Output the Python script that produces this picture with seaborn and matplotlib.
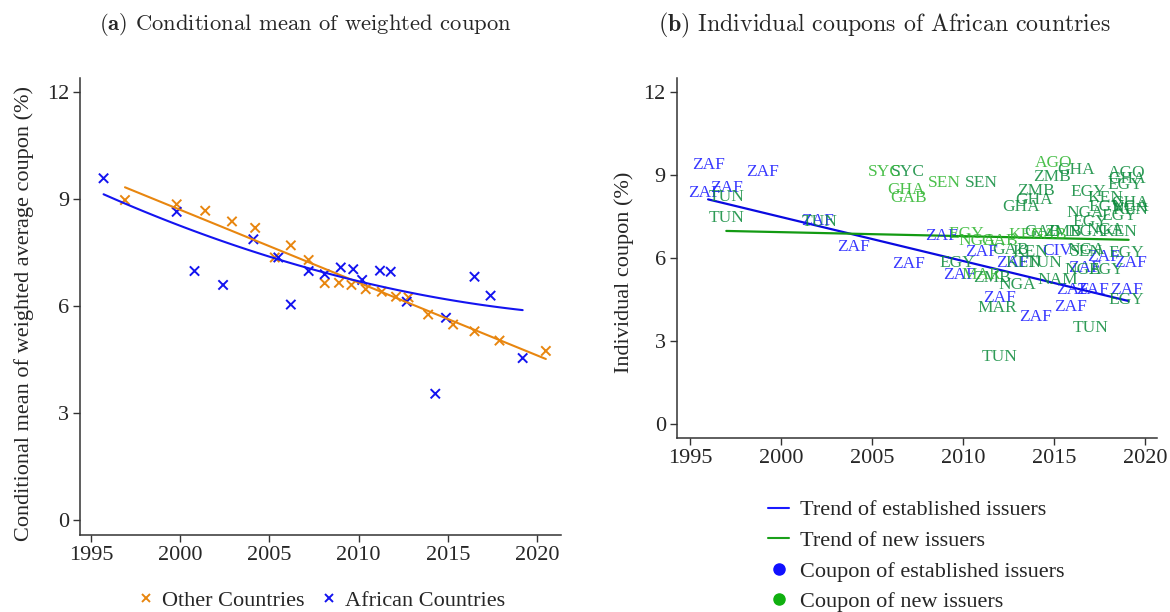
import numpy as np
import pandas as pd
import matplotlib
matplotlib.use("Agg")
import matplotlib.pyplot as plt
from matplotlib.lines import Line2D
import seaborn as sns

# panel (a): conditional mean of weighted average coupon, by year
other_year = [1996.9, 1999.8, 2001.4, 2002.9, 2004.2, 2005.3, 2006.2, 2007.2, 2008.1, 2008.9,
              2009.6, 2010.4, 2011.3, 2012.1, 2012.8, 2013.9, 2015.3, 2016.5, 2017.9, 2020.5]
other_coupon = [8.97, 8.85, 8.67, 8.37, 8.19, 7.36, 7.70, 7.29, 6.64, 6.65,
                6.59, 6.47, 6.40, 6.26, 6.24, 5.76, 5.48, 5.29, 5.03, 4.74]
africa_year = [1995.7, 1999.8, 2000.8, 2002.4, 2004.1, 2005.5, 2006.2, 2007.2, 2008.1, 2009.0,
               2009.7, 2010.2, 2011.2, 2011.8, 2012.7, 2014.3, 2014.9, 2016.5, 2017.4, 2019.2]
africa_coupon = [9.58, 8.64, 6.98, 6.59, 7.87, 7.36, 6.04, 6.98, 6.89, 7.08,
                 7.03, 6.73, 6.99, 6.96, 6.12, 3.54, 5.67, 6.82, 6.29, 4.54]
# fitted curve for African countries
africa_trend_year = [1995.7, 1999.8, 2004.8, 2009.9, 2014.9, 2019.2]
africa_trend_coupon = [9.12, 8.30, 7.43, 6.68, 6.19, 5.89]

# panel (b): individual coupons of African countries
bond_code = ["ZAF", "ZAF", "ZAF", "ZAF", "ZAF", "ZAF", "ZAF", "ZAF", "ZAF", "ZAF",
             "ZAF", "ZAF", "ZAF", "ZAF", "ZAF", "ZAF", "ZAF", "ZAF", "CIV", "ZAF", "ZAF",
             "TUN", "TUN", "TUN", "SYC", "SEN", "GHA", "ZMB", "GHA", "ZMB", "GHA",
             "EGY", "AGO", "GHA", "EGY", "KEN", "EGY", "GHA", "NGA", "KEN", "NGA",
             "EGY", "EGY", "NGA", "KEN", "GAB", "ZMB", "NGA", "EGY", "EGY", "KEN",
             "GAB", "NGA", "KEN", "TUN", "NGA", "EGY", "ZMB", "NAM", "NGA", "EGY",
             "MAR", "TUN", "TUN", "SEN",
             "SYC", "GHA", "GAB", "SEN", "AGO", "EGY", "NGA", "GAB", "KEN", "GAB", "MAR"]
bond_year = [1996.0, 1999.0, 1995.8, 1997.0, 2002.0, 2004.0, 2007.0, 2008.8, 2009.8, 2011.0,
             2012.7, 2012.0, 2014.0, 2015.9, 2016.0, 2017.1, 2019.0, 2019.2, 2015.2, 2017.7, 2016.7,
             1997.0, 1997.0, 2002.1, 2007.0, 2011.0, 2013.2, 2014.9, 2016.2, 2014.0, 2013.9,
             2016.9, 2019.0, 2019.0, 2018.9, 2017.8, 2017.9, 2019.2, 2019.2, 2019.2, 2016.7,
             2018.6, 2017.0, 2017.8, 2018.6, 2014.4, 2015.5, 2016.8, 2009.7, 2019.0, 2013.7,
             2012.6, 2016.8, 2013.3, 2014.5, 2016.6, 2017.9, 2011.6, 2015.2, 2013.0, 2019.0,
             2011.9, 2017.0, 2012.0, 2016.8,
             2005.7, 2006.9, 2007.0, 2009.0, 2015.0, 2010.2, 2010.8, 2012.0, 2013.5, 2014.7, 2011.0]
bond_coupon = [9.35, 9.10, 8.34, 8.52, 7.33, 6.39, 5.78, 6.79, 5.38, 6.21,
               5.81, 4.55, 3.86, 4.22, 4.84, 4.84, 4.84, 5.81, 6.25, 6.03, 5.63,
               8.19, 7.44, 7.29, 9.10, 8.70, 7.83, 8.92, 9.17, 8.41, 8.09,
               8.38, 9.06, 8.84, 8.63, 8.16, 7.83, 7.98, 7.83, 7.73, 7.62,
               7.51, 7.29, 7.00, 6.93, 6.93, 6.93, 6.28, 5.81, 6.17, 6.21,
               6.28, 6.93, 5.81, 5.81, 5.56, 5.56, 5.27, 5.20, 5.02, 4.48,
               4.19, 3.47, 2.42, 6.20,
               9.10, 8.45, 8.16, 8.70, 9.42, 6.86, 6.61, 6.61, 6.82, 6.82, 5.38]
bond_issuer = ["established"] * 21 + ["new"] * 44 + ["new, debut"] * 11

# linear trends
est_trend_year = [1996.0, 2019.1]
est_trend_coupon = [8.11, 4.44]
new_trend_year = [1997.0, 2019.1]
new_trend_coupon = [6.97, 6.65]

x_ticks = [1995, 2000, 2005, 2010, 2015, 2020]
y_ticks = [0, 3, 6, 9, 12]

sns.set_theme(style="ticks")
plt.rcParams["font.family"] = ["Liberation Serif", "DejaVu Serif"]
plt.rcParams["mathtext.fontset"] = "cm"

BLUE = "#1414f0"
ORANGE = "#e8860f"
issuer_colors = {"established": "#1616ff", "new": "#0a8a3a", "new, debut": "#2cb52c"}

fig = plt.figure(figsize=(11.7, 6.12), dpi=100)
ax1 = fig.add_axes([0.0684, 0.1258, 0.4111, 0.7467])
ax2 = fig.add_axes([0.5786, 0.2843, 0.4103, 0.5882])

# ---- panel (a)
left = pd.concat([
    pd.DataFrame({"year": other_year, "coupon": other_coupon, "group": "Other Countries"}),
    pd.DataFrame({"year": africa_year, "coupon": africa_coupon, "group": "African Countries"}),
])
sns.scatterplot(data=left, x="year", y="coupon", hue="group", marker="x",
                palette={"Other Countries": ORANGE, "African Countries": BLUE},
                s=45, linewidth=1.4, legend=False, ax=ax1)
sns.regplot(x=other_year, y=other_coupon, order=1, scatter=False, ci=None,
            color=ORANGE, line_kws={"lw": 1.5}, ax=ax1)
sns.regplot(x=africa_trend_year, y=africa_trend_coupon, order=2, scatter=False, ci=None,
            color=BLUE, line_kws={"lw": 1.5}, ax=ax1)
ax1.set_xlim(1994.38, 2021.35)
ax1.set_ylim(-0.42, 12.39)
ax1.set_ylabel("Conditional mean of weighted average coupon (%)", fontsize=16)
ax1.yaxis.set_label_coords(-0.095, 0.484)

# ---- panel (b)
right = pd.DataFrame({"year": bond_year, "coupon": bond_coupon,
                      "code": bond_code, "issuer": bond_issuer})
for _, r in right.iterrows():
    ax2.text(r["year"], r["coupon"], r["code"], ha="center", va="center",
             fontsize=12.5, color=issuer_colors[r["issuer"]], alpha=0.85)
sns.lineplot(x=est_trend_year, y=est_trend_coupon, color="#0a0ae0", lw=1.6, ax=ax2)
sns.lineplot(x=new_trend_year, y=new_trend_coupon, color="#139a13", lw=1.6, ax=ax2)
ax2.set_xlim(1994.29, 2020.66)
ax2.set_ylim(-0.505, 12.49)
ax2.set_ylabel("Individual coupon (%)", fontsize=16)
ax2.yaxis.set_label_coords(-0.09, 0.46)

for ax in (ax1, ax2):
    ax.set_xticks(x_ticks)
    ax.set_yticks(y_ticks)
    ax.set_xlabel("")
    ax.tick_params(labelsize=16, length=5, width=1, color="#333333", pad=3)
    for side in ("top", "right"):
        ax.spines[side].set_visible(False)
    for side in ("left", "bottom"):
        ax.spines[side].set_color("#333333")
        ax.spines[side].set_linewidth(1.1)

# titles
fig.text(305 / 1170, 1 - 25 / 612, r"$\mathbf{(a)}$ Conditional mean of weighted coupon",
         ha="center", va="center", fontsize=16.3, family="cmr10")
fig.text(884 / 1170, 1 - 25 / 612, r"$\mathbf{(b)}$ Individual coupons of African countries",
         ha="center", va="center", fontsize=17.2, family="cmr10")

# legends
left_handles = [
    Line2D([], [], ls="none", marker="x", color=ORANGE, markersize=6, mew=1.4),
    Line2D([], [], ls="none", marker="x", color=BLUE, markersize=6, mew=1.4),
]
fig.legend(left_handles, ["Other Countries", "African Countries"], loc="center",
           bbox_to_anchor=(320 / 1170, 1 - 601 / 612), ncol=2, frameon=False,
           fontsize=16, handletextpad=0.2, columnspacing=0.6, handlelength=1.0,
           borderpad=0)

right_handles = [
    Line2D([], [], color="#1a1aff", lw=1.5),
    Line2D([], [], color="#1aa01a", lw=1.5),
    Line2D([], [], ls="none", marker="o", color="#1010ff", markersize=8),
    Line2D([], [], ls="none", marker="o", color="#10b010", markersize=8),
]
fig.legend(right_handles, ["Trend of established issuers", "Trend of new issuers",
                           "Coupon of established issuers", "Coupon of new issuers"],
           loc="center left", bbox_to_anchor=(757 / 1170, 1 - 556 / 612), frameon=False,
           fontsize=16, handlelength=0.95, handletextpad=0.5, labelspacing=0.45,
           borderpad=0)

fig.savefig("out.png", dpi=100)
